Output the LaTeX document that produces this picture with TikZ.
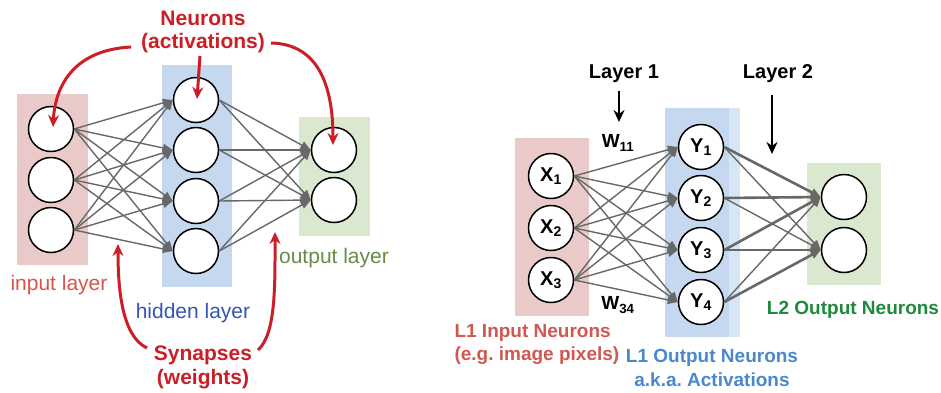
\documentclass[tikz,border=0pt]{standalone}
\usepackage{fontspec}
\setmainfont{Liberation Sans}
\usetikzlibrary{arrows.meta}
\definecolor{inPink}{RGB}{234,201,201}
\definecolor{hidBlue}{RGB}{197,216,240}
\definecolor{hidBlueL}{RGB}{215,230,246}
\definecolor{outGreen}{RGB}{218,232,208}
\definecolor{arrRed}{RGB}{204,30,38}
\definecolor{txtRed}{RGB}{214,86,78}
\definecolor{txtBlue}{RGB}{52,86,180}
\definecolor{txtGreen}{RGB}{104,140,72}
\definecolor{lblRed}{RGB}{208,88,80}
\definecolor{lblBlue}{RGB}{74,136,206}
\definecolor{lblGreen}{RGB}{30,138,62}
\definecolor{synGray}{RGB}{104,104,104}
\frenchspacing
\begin{document}
\begin{tikzpicture}[x=1pt,y=-1pt,
  neuron/.style={circle, draw=black, line width=1.5pt, fill=white, minimum size=45pt, inner sep=0pt, font=\bfseries\fontsize{20}{20}\selectfont},
  syn/.style={draw=synGray, line width=1.4pt, -{Triangle[length=10pt,width=8pt]}},
  synthick/.style={draw=synGray, line width=2.6pt, -{Triangle[length=10pt,width=8pt]}},
  redarr/.style={draw=arrRed, line width=3pt, -{Stealth[length=12pt,width=11pt]}},
  blkarr/.style={draw=black, line width=2.5pt, -{Stealth[length=12pt,width=11pt]}},
  redlbl/.style={text=arrRed, font=\bfseries\fontsize{21}{24}\selectfont},
  layerlbl/.style={font=\fontsize{21}{24}\selectfont},
  blklbl/.style={text=black, font=\bfseries\fontsize{20}{24}\selectfont},
  wlbl/.style={text=black, font=\bfseries\fontsize{19}{20}\selectfont},
  botlbl/.style={font=\bfseries\fontsize{19}{22}\selectfont}
]
\useasboundingbox (0,0) rectangle (941,392);
\fill[white] (0,0) rectangle (941,392);

% ---------------- left diagram ----------------
\fill[inPink] (17,94) rectangle (88,265);
\fill[hidBlue] (162,65) rectangle (232,287);
\fill[outGreen] (299,117) rectangle (370,236);

\node[neuron] (i1) at (51,129) {};
\node[neuron] (i2) at (51,180) {};
\node[neuron] (i3) at (51,230) {};
\node[neuron] (h1) at (196,100) {};
\node[neuron] (h2) at (196,150) {};
\node[neuron] (h3) at (196,201) {};
\node[neuron] (h4) at (196,251) {};
\node[neuron] (o1) at (334,150) {};
\node[neuron] (o2) at (334,200) {};

\foreach \a in {i1,i2,i3}
  \foreach \b in {h1,h2,h3,h4}
    \draw[syn] (\a.east) -- (\b.west);
\foreach \a in {h1,h2,h3,h4}
  \foreach \b in {o1,o2}
    \draw[syn] (\a.east) -- (\b.west);

\node[layerlbl, text=txtRed] (inl) at (59,285) {input layer};
\node[layerlbl, text=txtBlue] (hidl) at (193,313) {hidden layer};
\node[layerlbl, text=txtGreen] (outl) at (334,258) {output layer};

\node[redlbl] (neur) at (203,18) {Neurons};
\node[redlbl] (act) at (203,43) {(activations)};
\node[redlbl] (syns) at (203,355) {Synapses};
\node[redlbl] (wts) at (203,379) {(weights)};

\coordinate (a1s) at (131,47);
\coordinate (a1e) at (53,127);
\coordinate (a2s) at (200,56);
\coordinate (a2e) at (197,99);
\coordinate (a3s) at (271,43);
\coordinate (a3e) at (333,145);
\coordinate (s1s) at (147,348);
\coordinate (s1e) at (118,244);
\coordinate (s2s) at (258,350);
\coordinate (s2e) at (275,232);
\draw[redarr] (a1s) .. controls (72,50) and (55,88) .. (a1e);
\draw[redarr] (a2s) .. controls (199,70) and (198,85) .. (a2e);
\draw[redarr] (a3s) .. controls (318,44) and (333,85) .. (a3e);
\draw[redarr] (s1s) .. controls (122,336) and (118,290) .. (s1e);
\draw[redarr] (s2s) .. controls (276,334) and (275,285) .. (s2e);

% ---------------- right diagram ----------------
\fill[inPink] (515,138) rectangle (589,316);
\fill[hidBlueL] (665,108) rectangle (740,337);
\fill[hidBlue] (665,108) rectangle (729,337);
\fill[outGreen] (807,163) rectangle (881,285);

\node[neuron] (x1) at (551,176) {X\textsubscript{1}};
\node[neuron] (x2) at (551,228) {X\textsubscript{2}};
\node[neuron] (x3) at (551,280) {X\textsubscript{3}};
\node[neuron] (y1) at (701,147) {Y\textsubscript{1}};
\node[neuron] (y2) at (701,198) {Y\textsubscript{2}};
\node[neuron] (y3) at (701,250) {Y\textsubscript{3}};
\node[neuron] (y4) at (701,302) {Y\textsubscript{4}};
\node[neuron] (p1) at (844,197) {};
\node[neuron] (p2) at (844,250) {};

\foreach \a in {x1,x2,x3}
  \foreach \b in {y1,y2,y3,y4}
    \draw[syn] (\a.east) -- (\b.west);
\draw[synthick] (y1.east) -- (p1.west);
\draw[synthick] (y2.east) -- (p1.west);
\draw[synthick] (y3.east) -- (p1.west);
\draw[synthick] (y3.east) -- (p2.west);
\draw[synthick] (y4.east) -- (p2.west);
\draw[syn] (y1.east) -- (p2.west);
\draw[syn] (y2.east) -- (p2.west);
\draw[syn] (y4.east) -- (p1.west);

\node[blklbl] (l1) at (624,74) {Layer 1};
\node[blklbl] (l2) at (778,74) {Layer 2};
\coordinate (l1a) at (619,91);
\coordinate (l1b) at (619,122);
\coordinate (l2a) at (772,95);
\coordinate (l2b) at (772,154);
\draw[blkarr] (l1a) -- (l1b);
\draw[blkarr] (l2a) -- (l2b);

\node[wlbl] (w11) at (618,143) {W\textsubscript{11}};
\node[wlbl] (w34) at (618,305) {W\textsubscript{34}};

\node[botlbl, text=lblRed, anchor=west] (l1in) at (451,333) {L1 Input Neurons};
\node[botlbl, text=lblRed, anchor=west] (l1eg) at (451,356) {(e.g. image pixels)};
\node[botlbl, text=lblBlue] (l1out) at (712,358) {L1 Output Neurons};
\node[botlbl, text=lblBlue] (aka) at (712,380) {a.k.a. Activations};
\node[botlbl, text=lblGreen] (l2out) at (853,310) {L2 Output Neurons};
\end{tikzpicture}
\end{document}
